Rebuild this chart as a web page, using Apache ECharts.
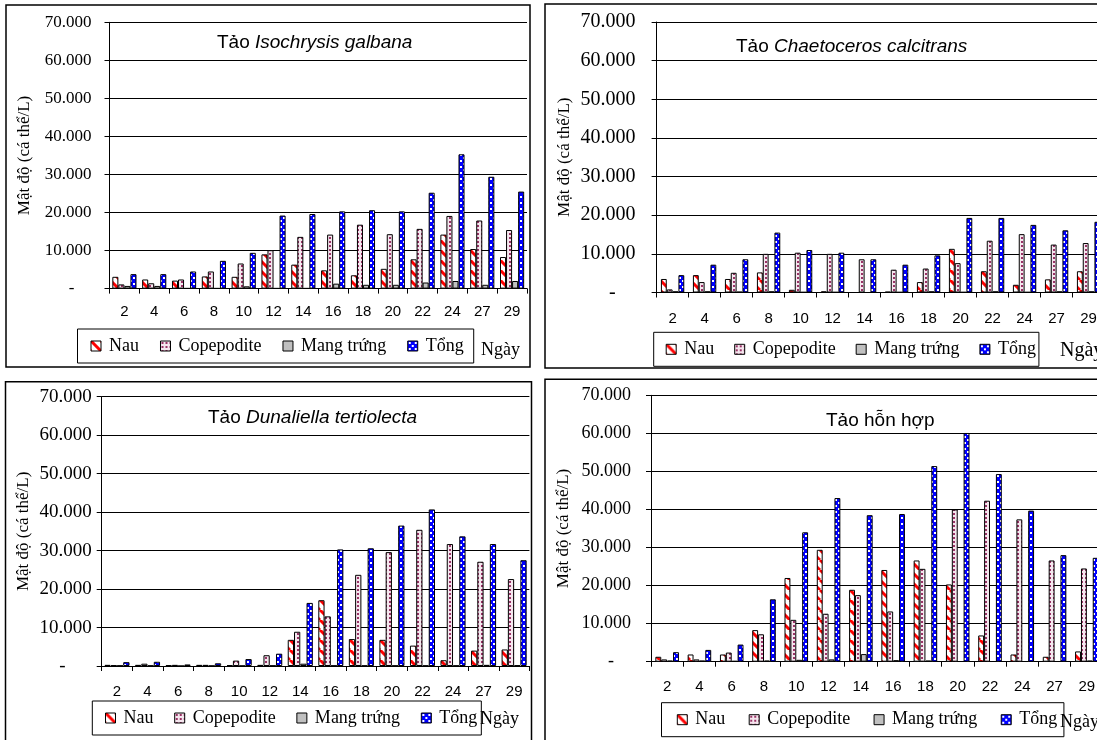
<!DOCTYPE html>
<html>
<head>
<meta charset="utf-8">
<title>Mật độ copepoda theo ngày nuôi</title>
<script src="https://cdn.jsdelivr.net/npm/echarts@6/dist/echarts.min.js"></script>
<style>
  html, body { margin: 0; padding: 0; background: #fff; }
  #chart { width: 1097px; height: 740px; }
</style>
</head>
<body>
<div id="chart"></div>
<script>
// Ngày nuôi (categories) and series names
const days = ['2', '4', '6', '8', '10', '12', '14', '16', '18', '20', '22', '24', '27', '29'];
const seriesNames = ['Nau', 'Copepodite', 'Mang trứng', 'Tổng'];
const yMin = 0, yMax = 70000, yStep = 10000;

// Tảo Isochrysis galbana
const isoNau  = [3100, 2400, 2100, 3200, 3100, 9000, 6300, 4800, 3500, 5200, 7700, 14200, 10400, 8300];
const isoCope = [1100, 1400, 2400, 4500, 6600, 10100, 13600, 14200, 16800, 14300, 15700, 19100, 17900, 15400];
const isoMang = [700, 700, 100, 100, 600, 100, 100, 1300, 1000, 1000, 1600, 2000, 1000, 2000];
const isoTong = [3800, 3800, 4500, 7300, 9400, 19200, 19600, 20300, 20600, 20300, 25200, 35300, 29400, 25500];

// Tảo Chaetoceros calcitrans
const chaeNau  = [3500, 4500, 3500, 5200, 700, 300, 0, 200, 2700, 11300, 5500, 2000, 3400, 5500];
const chaeCope = [800, 2700, 5100, 10000, 10300, 10000, 8600, 5900, 6200, 7600, 13400, 15100, 12400, 12800];
const chaeMang = [300, 300, 200, 300, 100, 100, 0, 100, 300, 100, 300, 100, 300, 300];
const chaeTong = [4500, 7200, 8600, 15500, 11000, 10300, 8600, 7200, 9600, 19300, 19300, 17500, 16100, 18300];

// Tảo Dunaliella tertiolecta
const dunaNau  = [300, 300, 200, 300, 200, 300, 6800, 17100, 7000, 6800, 5300, 1500, 4000, 4300];
const dunaCope = [200, 600, 300, 300, 1400, 2800, 8900, 12900, 23700, 29600, 35400, 31700, 27100, 22600];
const dunaMang = [100, 100, 0, 50, 50, 100, 600, 100, 100, 100, 100, 100, 300, 200];
const dunaTong = [1000, 1100, 400, 700, 1800, 3200, 16400, 30300, 30600, 36500, 40700, 33700, 31700, 27500];

// Tảo hỗn hợp
const mixNau  = [1300, 1900, 1900, 8300, 22000, 29400, 18900, 24100, 26600, 20300, 6900, 1900, 1300, 2700];
const mixCope = [600, 600, 2400, 7200, 11000, 12600, 17500, 13200, 24400, 40000, 42300, 37400, 26600, 24500];
const mixMang = [300, 300, 200, 300, 500, 600, 2000, 400, 300, 100, 100, 100, 100, 300];
const mixTong = [2500, 3100, 4500, 16400, 34000, 43000, 38500, 38800, 51400, 60100, 49300, 39700, 28000, 27300];

const SERIF = 'Liberation Serif';
const SANS = 'Liberation Sans';

// Hatch fills drawn on small tiles
function tile(w, h, draw) {
  const c = document.createElement('canvas');
  c.width = w; c.height = h;
  draw(c.getContext('2d'), w, h);
  return { image: c, repeat: 'repeat' };
}
const fillNau = tile(10, 10, (g, w, h) => {
  g.fillStyle = '#ffffff'; g.fillRect(0, 0, w, h);
  g.strokeStyle = '#ff0000'; g.lineWidth = 3;
  g.beginPath();
  [-10, 0, 10].forEach(k => { g.moveTo(k, 0); g.lineTo(k + 10, 10); });
  g.stroke();
});
const fillCope = tile(4, 4, (g, w, h) => {
  g.fillStyle = '#f5e6ee'; g.fillRect(0, 0, w, h);
  g.fillStyle = '#993366';
  g.fillRect(1, 1, 2, 2);
});
const fillMang = '#c0c0c0';
const fillTong = tile(6, 6, (g, w, h) => {
  g.fillStyle = '#0000ff'; g.fillRect(0, 0, w, h);
  g.fillStyle = '#ffffff';
  g.fillRect(1, 1, 2, 2); g.fillRect(4, 4, 2, 2);
});
const fills = [fillNau, fillCope, fillMang, fillTong];

const panels = [
  {
    species: 'Isochrysis galbana', values: [isoNau, isoCope, isoMang, isoTong],
    grid: { left: 109.5, top: 22.3, width: 417.5, height: 266.3 },
    yFont: 17, yMargin: 18, zeroPad: 17, nameGap: 76, xMargin: 16, gap: '19%',
    title: { left: 217, top: 33 },
    legend: { left: 77.5, top: 329, padding: [7, 10, 7, 13], itemGap: 21 },
    day: { x: 481, y: 350, size: 18 },
    frame: { x: 6, y: 5, width: 524, height: 362 }
  },
  {
    species: 'Chaetoceros calcitrans', values: [chaeNau, chaeCope, chaeMang, chaeTong],
    grid: { left: 656.6, top: 22, width: 448, height: 270.5 },
    yFont: 20, yMargin: 21, zeroPad: 20, nameGap: 84, xMargin: 19, gap: '27%',
    title: { left: 736, top: 37 },
    legend: { left: 653.7, top: 332.3, padding: [7, 3, 7, 12], itemGap: 20 },
    day: { x: 1060, y: 351, size: 20 },
    frame: { x: 545, y: 4, width: 600, height: 364 }
  },
  {
    species: 'Dunaliella tertiolecta', values: [dunaNau, dunaCope, dunaMang, dunaTong],
    grid: { left: 101.7, top: 396.7, width: 427.7, height: 269.3 },
    yFont: 19, yMargin: 10, zeroPad: 26, nameGap: 70, xMargin: 18, gap: '18%',
    title: { left: 208, top: 408 },
    legend: { left: 92.3, top: 701, padding: [7, 4, 7, 12.7], itemGap: 20.7 },
    day: { x: 480, y: 719, size: 18 },
    frame: { x: 5.5, y: 381.7, width: 526, height: 400 }
  },
  {
    species: null, values: [mixNau, mixCope, mixMang, mixTong],
    grid: { left: 651, top: 395.3, width: 452, height: 266.4 },
    yFont: 18, yMargin: 20, zeroPad: 17, nameGap: 79, xMargin: 18, gap: '27%',
    title: { left: 826, top: 411 },
    legend: { left: 661.5, top: 702.7, padding: [7, 6.7, 7, 15.3], itemGap: 23.4 },
    day: { x: 1060, y: 722, size: 18 },
    frame: { x: 545, y: 379.3, width: 600, height: 400 }
  }
];

function yLabel(v) {
  if (v === 0) return '{z|-}';
  return String(v / 1000) + '.000';
}

const option = {
  animation: false,
  backgroundColor: '#ffffff',
  title: [], legend: [], grid: [], xAxis: [], yAxis: [], series: [], graphic: []
};

panels.forEach((p, i) => {
  option.grid.push(Object.assign({ containLabel: false, outerBoundsMode: 'none' }, p.grid));

  option.xAxis.push({
    type: 'category', gridIndex: i, data: days,
    axisLine: { show: true, lineStyle: { color: '#000', width: 1 } },
    axisTick: { show: true, length: 5, interval: 0, lineStyle: { color: '#000' } },
    axisLabel: { interval: 0, margin: p.xMargin, color: '#000', fontFamily: SANS, fontSize: 15 },
    splitLine: { show: false }
  });

  option.yAxis.push({
    type: 'value', gridIndex: i, min: yMin, max: yMax, interval: yStep,
    name: 'Mật độ (cá thể/L)', nameLocation: 'middle', nameGap: p.nameGap,
    nameTextStyle: { color: '#000', fontFamily: SERIF, fontSize: 17 },
    axisLine: { show: true, lineStyle: { color: '#000', width: 1 } },
    axisTick: { show: true, length: 5, lineStyle: { color: '#000' } },
    axisLabel: {
      formatter: yLabel, margin: p.yMargin, color: '#000', fontFamily: SERIF, fontSize: p.yFont,
      rich: { z: { padding: [0, p.zeroPad, 0, 0], fontFamily: SERIF, fontSize: p.yFont, color: '#000' } }
    },
    splitLine: { show: true, lineStyle: { color: '#000', width: 1 } }
  });

  const titleText = p.species ? '{a|Tảo }{b|' + p.species + '}' : '{a|Tảo hỗn hợp}';
  option.title.push({
    text: titleText, left: p.title.left, top: p.title.top, padding: 0,
    textStyle: {
      rich: {
        a: { fontFamily: SANS, fontSize: 19, color: '#000', fontWeight: 'normal' },
        b: { fontFamily: SANS, fontSize: 19, color: '#000', fontWeight: 'normal', fontStyle: 'italic' }
      }
    }
  });

  option.legend.push({
    data: seriesNames, orient: 'horizontal', left: p.legend.left, top: p.legend.top,
    padding: p.legend.padding, itemGap: p.legend.itemGap,
    itemWidth: 10, itemHeight: 10, icon: 'rect',
    borderColor: '#000', borderWidth: 1, borderRadius: 0, backgroundColor: '#fff',
    selectedMode: false,
    itemStyle: { borderColor: '#000', borderWidth: 1 },
    textStyle: { fontFamily: SERIF, fontSize: 18, color: '#000', lineHeight: 20, padding: [0, 0, 0, 3] }
  });

  seriesNames.forEach((name, s) => {
    option.series.push({
      type: 'bar', name: name, xAxisIndex: i, yAxisIndex: i,
      data: p.values[s], barGap: '0%', barCategoryGap: p.gap,
      itemStyle: { color: fills[s], borderColor: '#000', borderWidth: 1 },
      emphasis: { disabled: true }
    });
  });

  option.graphic.push({
    type: 'rect', silent: true, z: 100,
    shape: p.frame,
    style: { fill: 'none', stroke: '#000', lineWidth: 1.5 }
  });
  option.graphic.push({
    type: 'text', silent: true, z: 100, x: p.day.x, y: p.day.y,
    style: { text: 'Ngày', font: p.day.size + 'px "' + SERIF + '"', fill: '#000', verticalAlign: 'middle' }
  });
});

const chart = echarts.init(document.getElementById('chart'), null, { renderer: 'canvas' });
chart.setOption(option);
</script>
</body>
</html>
